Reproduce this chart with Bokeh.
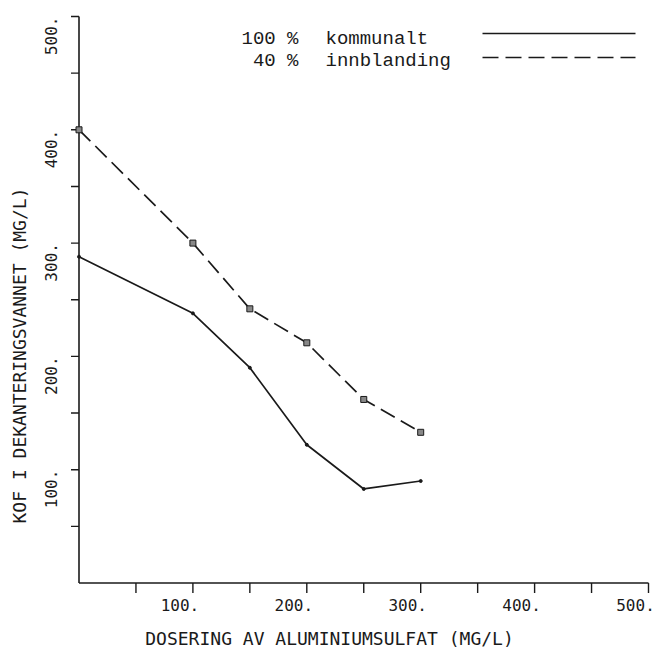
import math
from bokeh.plotting import figure
from bokeh.models import Range1d
from bokeh.core.properties import value
from bokeh.embed import file_html
from bokeh.resources import INLINE

# ---- data ----
dose = [0, 100, 150, 200, 250, 300]
kommunalt = [288, 238, 190, 122, 83, 90]
innblanding = [400, 300, 242, 212, 162, 133]

tick_values = [50, 100, 150, 200, 250, 300, 350, 400, 450, 500]
label_values = [100, 200, 300, 400, 500]
label_texts = ["100.", "200.", "300.", "400.", "500."]

legend_numbers = ["100 %", "40 %"]
legend_names = ["kommunalt", "innblanding"]
legend_dashes = ["solid", "16 7"]

x_title = "DOSERING AV ALUMINIUMSULFAT (MG/L)"
y_title = "KOF I DEKANTERINGSVANNET (MG/L)"

INK = "#1a1a1a"
PLOT_FONT = "DejaVu Sans Mono"
TYPE_FONT = "Liberation Mono"

W, H = 659, 650
SX, SY = 1.139, 1.133          # pixels per data unit
X0_PX, Y0_PX = 78.5, 582.5     # pixel position of the data origin
x_start = -X0_PX / SX
y_end = Y0_PX / SY
p = figure(width=W, height=H,
           x_range=Range1d(x_start, x_start + W / SX),
           y_range=Range1d(y_end - H / SY, y_end),
           output_backend="svg", toolbar_location=None,
           x_axis_location=None, y_axis_location=None,
           min_border=0)
p.background_fill_color = "white"
p.border_fill_color = "white"
p.outline_line_color = None
p.grid.visible = False

top = max(tick_values)

# ---- axes drawn from tick values ----
p.line([0, top], [0, 0], line_color=INK, line_width=1.6)
p.line([0, 0], [0, top], line_color=INK, line_width=1.6)
p.segment(x0=tick_values, y0=[0] * len(tick_values),
          x1=tick_values, y1=[-10 / SY] * len(tick_values),
          line_color=INK, line_width=1.4)
p.segment(x0=[0] * len(tick_values), y0=tick_values,
          x1=[-8 / SX] * len(tick_values), y1=tick_values,
          line_color=INK, line_width=1.4)

# ---- data lines ----
p.line(dose, kommunalt, line_color=INK, line_width=1.7)
p.scatter(dose, kommunalt, size=3, marker="circle", color=INK)
p.line(dose, innblanding, line_color=INK, line_width=1.7, line_dash="16 7")
p.scatter(dose, innblanding, size=6, marker="square",
          fill_color="#888888", line_color=INK, line_width=1)

# ---- tick labels ----
p.text(x=[v - 13 / SX for v in label_values],
       y=[-22 / SY] * len(label_values), text=label_texts,
       text_align="center", text_baseline="middle",
       text_font=value(PLOT_FONT), text_font_size="16px", text_color=INK)
p.text(x=[-28 / SX] * len(label_values), y=label_values, text=label_texts,
       angle=math.pi / 2, text_align="right", text_baseline="middle",
       text_font=value(PLOT_FONT), text_font_size="16px", text_color=INK)

# ---- axis titles ----
p.text(x=[(329 - X0_PX) / SX], y=[(Y0_PX - 638) / SY], text=[x_title],
       text_align="center", text_baseline="middle",
       text_font=value(PLOT_FONT), text_font_size="18px", text_color=INK)
p.text(x=[(19 - X0_PX) / SX], y=[(Y0_PX - 355) / SY], text=[y_title],
       angle=math.pi / 2, text_align="center", text_baseline="middle",
       text_font=value(PLOT_FONT), text_font_size="18px", text_color=INK)

# ---- legend (text at left, line sample at right) ----
rows_px = [38, 60]
lines_px = [33, 57]
p.text(x=[(298 - X0_PX) / SX] * 2, y=[(Y0_PX - r) / SY for r in rows_px],
       text=legend_numbers, text_align="right", text_baseline="middle",
       text_font=value(TYPE_FONT), text_font_size="19px", text_color=INK)
p.text(x=[(325 - X0_PX) / SX] * 2, y=[(Y0_PX - r) / SY for r in rows_px],
       text=legend_names, text_align="left", text_baseline="middle",
       text_font=value(TYPE_FONT), text_font_size="19px", text_color=INK)
for dash, lp in zip(legend_dashes, lines_px):
    yy = (Y0_PX - lp) / SY
    p.line([(482 - X0_PX) / SX, (635 - X0_PX) / SX], [yy, yy],
           line_color=INK, line_width=1.7, line_dash=dash)

open("out.html", "w").write(file_html(p, INLINE))
